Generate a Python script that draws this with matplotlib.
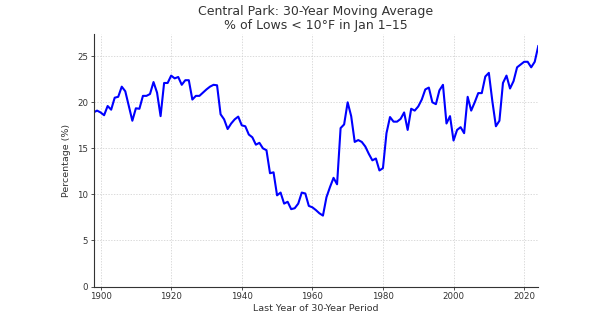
import matplotlib
matplotlib.use("Agg")
import matplotlib.pyplot as plt
import numpy as np

# Last year of each 30-year window
years = list(range(1898, 2025))

# 30-year moving average of the share of Jan 1-15 lows below 10°F (%)
pct_below_10f = [
    18.9, 19.1, 18.9, 18.6, 19.6, 19.2, 20.5, 20.6, 21.7, 21.2,   # 1898-1907
    19.6, 18.0, 19.35, 19.3, 20.7, 20.7, 20.9, 22.2, 21.05, 18.5,  # 1908-1917
    22.1, 22.1, 22.9, 22.6, 22.75, 21.9, 22.4, 22.4, 20.3, 20.7,   # 1918-1927
    20.7, 21.05, 21.4, 21.7, 21.9, 21.85, 18.7, 18.15, 17.1, 17.7, # 1928-1937
    18.15, 18.45, 17.5, 17.4, 16.5, 16.2, 15.4, 15.6, 15.0, 14.8,  # 1938-1947
    12.3, 12.4, 9.9, 10.2, 9.0, 9.2, 8.4, 8.5, 9.0, 10.2,          # 1948-1957
    10.1, 8.75, 8.6, 8.3, 7.95, 7.7, 9.7, 10.8, 11.8, 11.1,        # 1958-1967
    17.2, 17.6, 20.0, 18.5, 15.7, 15.9, 15.7, 15.2, 14.4, 13.7,    # 1968-1977
    13.9, 12.6, 12.85, 16.65, 18.4, 17.9, 17.9, 18.2, 18.9, 17.0,  # 1978-1987
    19.3, 19.1, 19.55, 20.3, 21.4, 21.6, 20.0, 19.8, 21.3, 21.9,   # 1988-1997
    17.7, 18.5, 15.85, 17.0, 17.3, 16.65, 20.6, 19.1, 20.0, 21.0,  # 1998-2007
    21.0, 22.8, 23.2, 20.1, 17.4, 18.0, 22.1, 22.9, 21.5, 22.3,    # 2008-2017
    23.8, 24.1, 24.4, 24.4, 23.8, 24.4, 26.1,                      # 2018-2024
]

x_ticks = [1900, 1920, 1940, 1960, 1980, 2000, 2020]
y_ticks = [0, 5, 10, 15, 20, 25]

fig = plt.figure(figsize=(6.01, 3.24), dpi=100)
ax = fig.add_axes([0.1556, 0.1157, 0.740, 0.779])

ax.plot(years, pct_below_10f, color="#0000ff", linewidth=1.5)

ax.set_xlim(years[0], years[-1])
ax.set_ylim(0, max(pct_below_10f) * 1.05)
ax.set_xticks(x_ticks)
ax.set_yticks(y_ticks)

ax.grid(True, linestyle=(0, (2, 2)), linewidth=0.5, color="#cccccc")
ax.set_axisbelow(True)
for side in ("top", "right"):
    ax.spines[side].set_visible(False)
for side in ("left", "bottom"):
    ax.spines[side].set_color("#333333")
    ax.spines[side].set_linewidth(0.8)

ax.tick_params(axis="both", labelsize=6.2, length=2.5, width=0.6,
               colors="#333333", pad=1.5)

ax.set_title("Central Park: 30-Year Moving Average\n% of Lows < 10°F in Jan 1–15",
             fontsize=9, color="#333333", linespacing=1.1, pad=3.5)
ax.set_xlabel("Last Year of 30-Year Period", fontsize=6.8, color="#333333", labelpad=2)
ax.set_ylabel("Percentage (%)", fontsize=6.8, color="#333333", labelpad=4)

fig.savefig("out.png", dpi=100, facecolor="white")
